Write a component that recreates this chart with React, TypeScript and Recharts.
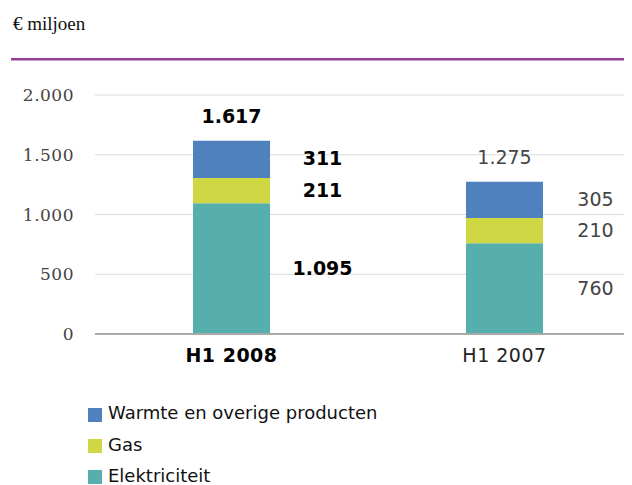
import React from "react";
import { BarChart, Bar, XAxis, YAxis, CartesianGrid, LabelList } from "recharts";

const categories = ["H1 2008", "H1 2007"];
const elektriciteit = [1095, 760];
const gas = [211, 210];
const warmte = [311, 305];
const totals = [1617, 1275];
const yTicks = [0, 500, 1000, 1500, 2000];

const seriesInfo = [
  { key: "warmte", name: "Warmte en overige producten", color: "#4F81BF" },
  { key: "gas", name: "Gas", color: "#CFD744" },
  { key: "elektriciteit", name: "Elektriciteit", color: "#56AEAD" },
];

const data = categories.map((c, i) => ({
  name: c,
  elektriciteit: elektriciteit[i],
  gas: gas[i],
  warmte: warmte[i],
  total: totals[i],
}));

const fmt = (v: number) => String(v).replace(/\B(?=(\d{3})+(?!\d))/g, ".");
const SANS = "'DejaVu Sans', sans-serif";
const SERIF = "'DejaVu Serif', serif";

const SideLabel = (props: any) => {
  const { x, y, width, height, value, index } = props;
  const first = index === 0;
  return (
    <text
      x={x + width / 2 + 91}
      y={y + height / 2 - 1}
      textAnchor="middle"
      dominantBaseline="central"
      fontFamily={SANS}
      fontSize={19}
      fontWeight={first ? "bold" : "normal"}
      fill={first ? "#000" : "#444"}
    >
      {fmt(value)}
    </text>
  );
};

const TotalLabel = (props: any) => {
  const { x, y, width, value, index } = props;
  const first = index === 0;
  return (
    <text
      x={x + width / 2}
      y={y - 25}
      textAnchor="middle"
      dominantBaseline="central"
      fontFamily={SANS}
      fontSize={19}
      fontWeight={first ? "bold" : "normal"}
      fill={first ? "#000" : "#444"}
    >
      {fmt(value)}
    </text>
  );
};

const XTick = (props: any) => {
  const { x, y, payload, index } = props;
  const first = index === 0;
  return (
    <text
      x={x}
      y={y + 28}
      textAnchor="middle"
      fontFamily={SANS}
      fontSize={19}
      fontWeight={first ? "bold" : "normal"}
      fill={first ? "#000" : "#222"}
      style={{ whiteSpace: "pre" }}
      letterSpacing={0.5}
    >
      {payload.value}
    </text>
  );
};

export default function App() {
  return (
    <div style={{ position: "relative", width: 624, height: 477, overflow: "hidden" }}>
      <div style={{ position: "absolute", left: 0, top: 0 }}>
        <BarChart
          width={633}
          height={380}
          data={data}
          margin={{ top: 87, right: 0, bottom: 14, left: 0 }}
          barSize={77}
        >
          <CartesianGrid vertical={false} stroke="#dcdcdc" />
          <YAxis
            width={87}
            domain={[0, 2000]}
            ticks={yTicks}
            axisLine={false}
            tickLine={false}
            tickSize={0}
            tickMargin={21}
            tickFormatter={fmt}
            tick={{ fontFamily: SERIF, fontSize: 17, fill: "#444", letterSpacing: 0.5 }}
          />
          <XAxis
            dataKey="name"
            height={40}
            axisLine={{ stroke: "#aaaaaa", strokeWidth: 2 }}
            tickLine={false}
            tickSize={0}
            tickMargin={0}
            tick={<XTick />}
            interval={0}
          />
          <Bar dataKey="elektriciteit" stackId="a" fill="#56AEAD" isAnimationActive={false}>
            <LabelList dataKey="elektriciteit" content={<SideLabel />} />
          </Bar>
          <Bar dataKey="gas" stackId="a" fill="#CFD744" isAnimationActive={false}>
            <LabelList dataKey="gas" content={<SideLabel />} />
          </Bar>
          <Bar dataKey="warmte" stackId="a" fill="#4F81BF" isAnimationActive={false}>
            <LabelList dataKey="warmte" content={<SideLabel />} />
            <LabelList dataKey="total" content={<TotalLabel />} />
          </Bar>
        </BarChart>
      </div>
      <svg
        width={624}
        height={477}
        style={{ position: "absolute", left: 0, top: 0, pointerEvents: "none" }}
      >
        <text x={5} y={22} fontFamily="'Liberation Serif', serif" fontSize={19} fill="#111">
          € miljoen
        </text>
        <rect x={3} y={50} width={621} height={2.5} fill="#963E94" />
        {seriesInfo.map((s, i) => (
          <g key={s.key}>
            <rect x={80} y={400 + i * 31} width={14} height={14} fill={s.color} />
            <text x={100} y={411 + i * 31.5} fontFamily={SANS} fontSize={18} fill="#111">
              {s.name}
            </text>
          </g>
        ))}
      </svg>
    </div>
  );
}
